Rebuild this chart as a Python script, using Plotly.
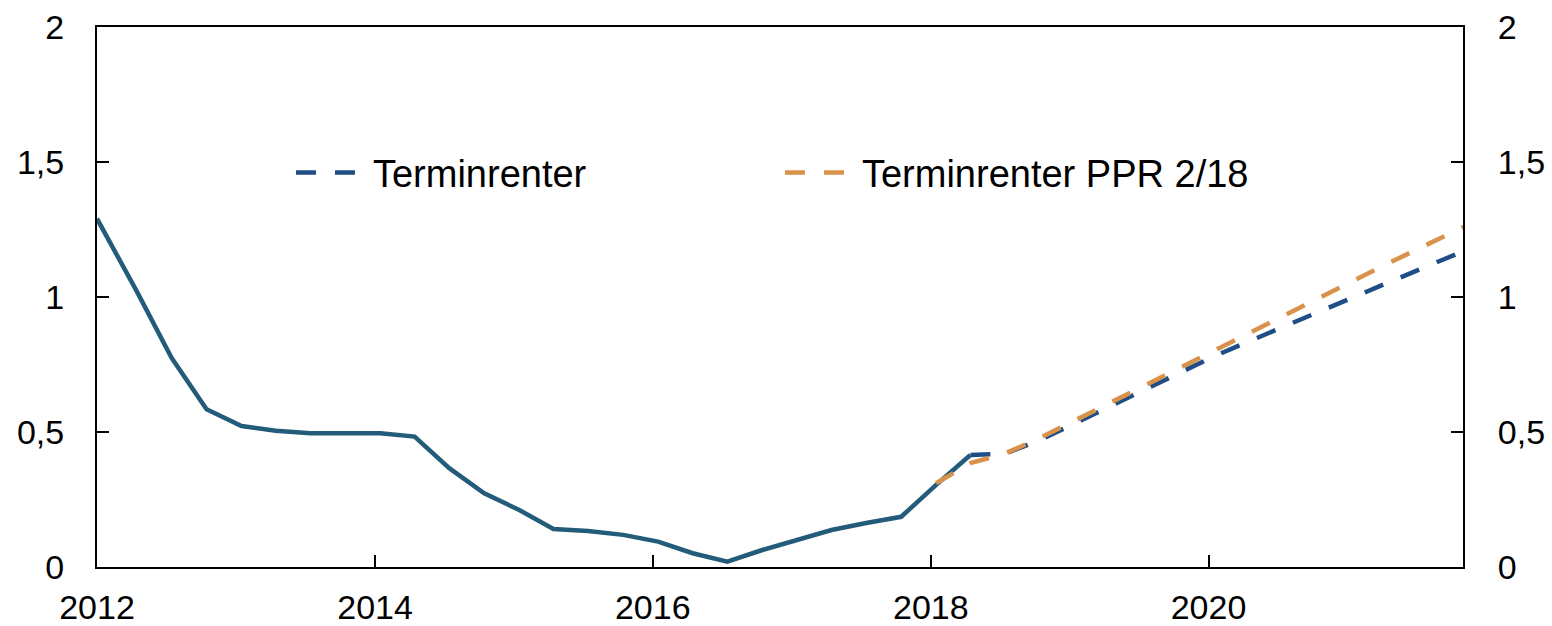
import plotly.graph_objects as go

# Historical series (solid)
hist_dates = ["2012-01-01", "2012-04-15", "2012-07-15", "2012-10-15",
              "2013-01-15", "2013-04-15", "2013-07-15", "2013-10-15",
              "2014-01-15", "2014-04-15", "2014-07-15", "2014-10-15",
              "2015-01-15", "2015-04-15", "2015-07-15", "2015-10-15",
              "2016-01-15", "2016-04-15", "2016-07-15", "2016-10-15",
              "2017-01-15", "2017-04-15", "2017-07-15", "2017-10-15",
              "2018-01-15", "2018-04-15"]
hist_vals = [1.29, 1.02, 0.775, 0.584,
             0.522, 0.505, 0.495, 0.495,
             0.495, 0.483, 0.366, 0.273,
             0.211, 0.141, 0.133, 0.119,
             0.094, 0.051, 0.020, 0.063,
             0.100, 0.137, 0.163, 0.186,
             0.304, 0.415]

# Terminrenter (blue dashed)
fwd_dates = ["2018-04-15", "2018-07-15", "2018-10-15",
             "2019-01-15", "2019-04-15", "2019-07-15", "2019-10-15",
             "2020-01-15", "2020-04-15", "2020-07-15", "2020-10-15",
             "2021-01-15", "2021-04-15", "2021-07-15", "2021-10-15",
             "2022-01-15"]
fwd_vals = [0.415, 0.42, 0.47,
            0.532, 0.594, 0.657, 0.719,
            0.78, 0.835, 0.89, 0.943,
            0.997, 1.052, 1.106, 1.16,
            1.213]

# Terminrenter PPR 2/18 (orange dashed)
ppr_dates = ["2018-01-15", "2018-04-15", "2018-07-15", "2018-10-15",
             "2019-01-15", "2019-04-15", "2019-07-15", "2019-10-15",
             "2020-01-15", "2020-04-15", "2020-07-15", "2020-10-15",
             "2021-01-15", "2021-04-15", "2021-07-15", "2021-10-15",
             "2022-01-15"]
ppr_vals = [0.31, 0.385, 0.42, 0.478,
            0.543, 0.607, 0.671, 0.735,
            0.80, 0.865, 0.93, 0.994,
            1.06, 1.123, 1.185, 1.247,
            1.31]

y_ticks = [0, 0.5, 1, 1.5, 2]
y_labels = ["0", "0,5", "1", "1,5", "2"]

FONT = "Liberation Sans, Arial, sans-serif"

fig = go.Figure()
fig.add_trace(go.Scatter(x=hist_dates, y=hist_vals, mode="lines",
                         line=dict(color="#235b7b", width=4.5),
                         showlegend=False, hoverinfo="skip"))
fig.add_trace(go.Scatter(x=fwd_dates, y=fwd_vals, mode="lines", name="Terminrenter",
                         line=dict(color="#1f4e87", width=4.5, dash="20px,19px"),
                         yaxis="y2"))
fig.add_trace(go.Scatter(x=ppr_dates, y=ppr_vals, mode="lines", name="Terminrenter PPR 2/18",
                         line=dict(color="#d8924a", width=4.5, dash="20px,19px"),
                         yaxis="y2"))

axis_common = dict(showgrid=False, zeroline=False, showline=True, linecolor="black",
                   linewidth=2, ticks="inside", ticklen=12, tickwidth=2, tickcolor="black",
                   automargin=False,
                   tickfont=dict(family=FONT, size=34, color="black"))

fig.update_layout(
    width=1552, height=626,
    margin=dict(l=97, r=89, t=27, b=59),
    paper_bgcolor="white", plot_bgcolor="white",
    font=dict(family=FONT, color="black"),
    xaxis=dict(type="date", range=["2012-01-01", "2021-10-31"],
               tick0="2012-01-01", dtick="M24", tickformat="%Y",
               mirror=True, ticklabelstandoff=9, **axis_common),
    yaxis=dict(range=[0, 2], tickvals=y_ticks, ticktext=y_labels,
               ticklabelstandoff=24, **axis_common),
    yaxis2=dict(range=[0, 2], tickvals=y_ticks, ticktext=y_labels, overlaying="y",
                side="right", ticklabelstandoff=26, **axis_common),
    legend=dict(orientation="h", x=0.142, y=0.73, xanchor="left", yanchor="middle",
                bgcolor="rgba(0,0,0,0)", font=dict(family=FONT, size=38, color="black"),
                entrywidth=402, entrywidthmode="pixels", itemwidth=72),
)

fig.write_html("out.html", config={"displayModeBar": False},
               post_script="document.body.style.margin='0';document.body.style.overflow='hidden';")
